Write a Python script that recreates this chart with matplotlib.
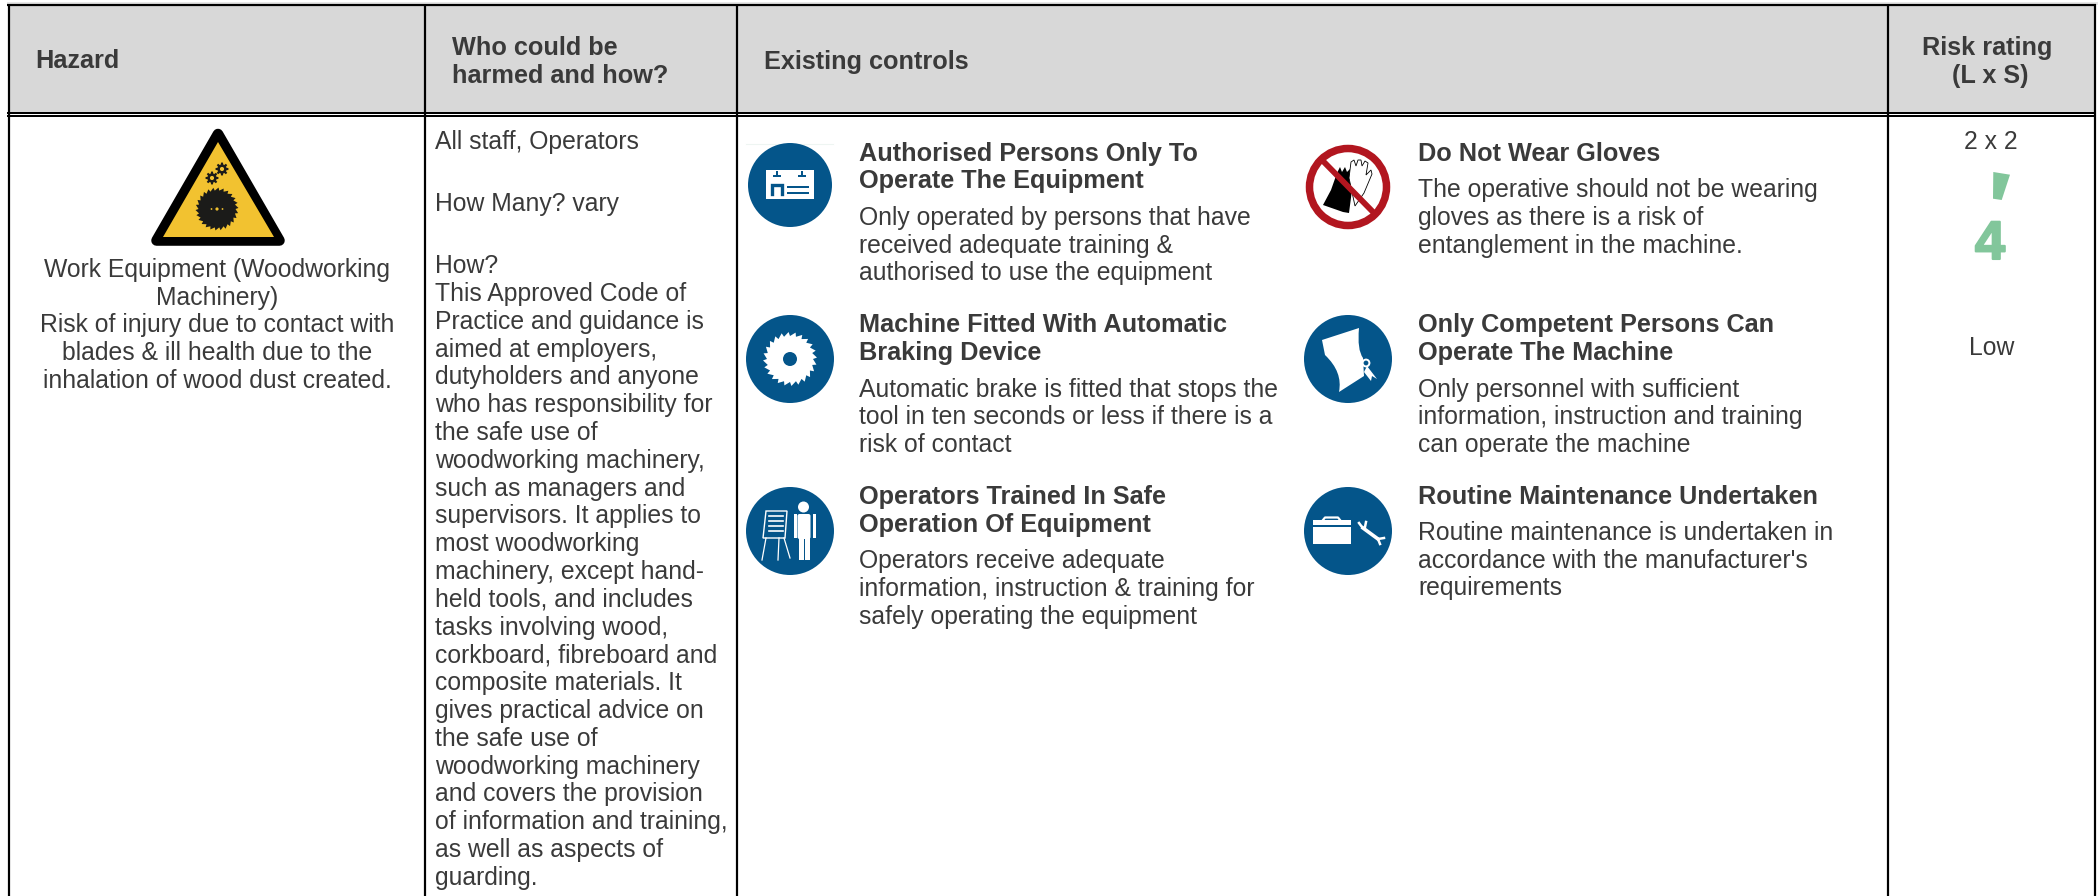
import matplotlib
matplotlib.use("Agg")
import matplotlib.pyplot as plt
import numpy as np
from matplotlib.patches import Polygon, Circle, Rectangle, FancyBboxPatch, PathPatch
from matplotlib.path import Path
import matplotlib.patheffects as pe

plt.rcParams['font.family'] = ['Liberation Sans', 'DejaVu Sans']

# Table text
header_labels = ["Hazard", "Existing controls"]
who_header = ["Who could be", "harmed and how?"]
risk_header = ["Risk rating", "(L x S)"]

hazard_lines = ["Work Equipment (Woodworking", "Machinery)", "Risk of injury due to contact with",
                "blades & ill health due to the", "inhalation of wood dust created."]

who_top = ["All staff, Operators", "How Many? vary", "How?"]
who_lines = ["This Approved Code of", "Practice and guidance is", "aimed at employers,",
             "dutyholders and anyone", "who has responsibility for", "the safe use of",
             "woodworking machinery,", "such as managers and", "supervisors. It applies to",
             "most woodworking", "machinery, except hand-", "held tools, and includes",
             "tasks involving wood,", "corkboard, fibreboard and", "composite materials. It",
             "gives practical advice on", "the safe use of", "woodworking machinery",
             "and covers the provision", "of information and training,", "as well as aspects of",
             "guarding."]

controls_left = [
    (["Authorised Persons Only To", "Operate The Equipment"],
     ["Only operated by persons that have", "received adequate training &", "authorised to use the equipment"]),
    (["Machine Fitted With Automatic", "Braking Device"],
     ["Automatic brake is fitted that stops the", "tool in ten seconds or less if there is a", "risk of contact"]),
    (["Operators Trained In Safe", "Operation Of Equipment"],
     ["Operators receive adequate", "information, instruction & training for", "safely operating the equipment"]),
]
controls_right = [
    (["Do Not Wear Gloves"],
     ["The operative should not be wearing", "gloves as there is a risk of", "entanglement in the machine."]),
    (["Only Competent Persons Can", "Operate The Machine"],
     ["Only personnel with sufficient", "information, instruction and training", "can operate the machine"]),
    (["Routine Maintenance Undertaken"],
     ["Routine maintenance is undertaken in", "accordance with the manufacturer's", "requirements"]),
]
rating_text = "2 x 2"
rating_value = "4"
rating_level = "Low"

TXT = '#3a3a3a'
BLUE = '#04558a'
GREEN = '#82c69b'
DARK = '#1b1b19'
BODY = 17.8
BOLD = 18.2

fig = plt.figure(figsize=(20.98, 8.96), dpi=100)
ax = fig.add_axes([0, 0, 1, 1])
ax.set_xlim(0, 2098)
ax.set_ylim(896, 0)
ax.axis('off')


def put(x, y, s, bold=False, ha='left', size=None, color=TXT):
    ax.text(x, y + 1, s, ha=ha, va='baseline', color=color,
            fontsize=size or (BOLD if bold else BODY),
            fontweight='bold' if bold else 'normal')


def poly(pts, fc, z=3, **kw):
    ax.add_patch(Polygon(pts, closed=True, fc=fc, ec=kw.pop('ec', 'none'), zorder=z, **kw))


def toothed(cx, cy, r_out, r_in, n, fc, z=4, skew=0.0):
    ang = np.linspace(0, 2 * np.pi, n, endpoint=False)
    step = 2 * np.pi / n
    pts = []
    for a in ang:
        pts.append((cx + r_in * np.cos(a), cy + r_in * np.sin(a)))
        pts.append((cx + r_out * np.cos(a + skew * step), cy + r_out * np.sin(a + skew * step)))
    poly(pts, fc, z)


def gear(cx, cy, r, fc, n=8):
    ang = np.linspace(0, 2 * np.pi, n, endpoint=False)
    step = 2 * np.pi / n
    pts = []
    for a in ang:
        for da, rr in [(-0.32, 0.72), (-0.2, 1.0), (0.2, 1.0), (0.32, 0.72)]:
            pts.append((cx + r * rr * np.cos(a + da * step), cy + r * rr * np.sin(a + da * step)))
    poly(pts, fc, 5)
    ax.add_patch(Circle((cx, cy), r * 0.32, fc='#f2c230', ec='none', zorder=6))


# Header band and grid lines
ax.add_patch(Rectangle((7, 2.5), 2091, 2.5, fc='#e6e6e6', ec='none', zorder=0))
ax.add_patch(Rectangle((9, 5), 2086, 108, fc='#d8d8d8', ec='none', zorder=0))
for y0, lw in [(5, 2.2), (113, 2.0), (116.5, 2.0)]:
    ax.plot([7.2, 2096], [y0, y0], color='black', lw=lw * 0.72, solid_capstyle='butt', zorder=2)
for x0 in [8.6, 425, 737, 1888, 2095]:
    ax.plot([x0, x0], [4, 896], color='black', lw=2.2 * 0.72, solid_capstyle='butt', zorder=2)

# Header text
put(35, 67.5, header_labels[0], bold=True)
put(452, 54, who_header[0], bold=True)
put(452, 82, who_header[1], bold=True)
put(764, 67.5, header_labels[1], bold=True)
put(1987.5, 54, risk_header[0], bold=True, ha='center')
put(1990, 82, risk_header[1], bold=True, ha='center')

# Hazard column
for y0, s in zip([276, 304, 331, 359, 387], hazard_lines):
    put(217, y0, s, ha='center')

# Who column
for y0, s in zip([148, 210, 272], who_top):
    put(435, y0, s)
for i, s in enumerate(who_lines):
    put(435, 300 + i * 27.8, s)

# Controls
left_y = [[160, 187, 224, 252, 279], [331, 359, 396, 423, 451], [503, 531, 567, 595, 623]]
right_y = [[160, 196, 224, 252], [331, 359, 396, 423, 451], [503, 539, 567, 594]]
for (titles, body), ys in zip(controls_left, left_y):
    lines = [(t, True) for t in titles] + [(b, False) for b in body]
    for y0, (s, b) in zip(ys, lines):
        put(859, y0, s, bold=b)
for (titles, body), ys in zip(controls_right, right_y):
    lines = [(t, True) for t in titles] + [(b, False) for b in body]
    for y0, (s, b) in zip(ys, lines):
        put(1418, y0, s, bold=b)

# Risk column
put(1991, 148, rating_text, ha='center')
put(1992, 354, rating_level, ha='center')
poly([(1993.3, 172), (2010, 174.7), (2001.7, 200), (1993, 198.7)], GREEN)
t4 = ax.text(1990, 259, rating_value, ha='center', va='baseline', fontsize=39,
             fontweight='bold', color=GREEN)
t4.set_path_effects([pe.withStroke(linewidth=1.5, foreground=GREEN)])

# Warning triangle
poly([(218, 134), (156.5, 240.5), (279.5, 240.5)], 'black', 3, ec='black', lw=7.6, joinstyle='round')
poly([(218, 142), (163, 237), (274, 237)], '#f2c230', 4)
toothed(217, 209, 21.5, 18.5, 26, DARK, 5, skew=0.8)
gear(212, 178, 6.5, DARK)
gear(222, 169, 6.5, DARK)
for dx, rr in [(-5.5, 0.9), (0, 1.6), (5.5, 0.9)]:
    ax.add_patch(Circle((217 + dx, 209), rr, fc='#f2c230', ec='none', zorder=6))

# Icon discs
ax.plot([746, 833], [144, 144], color='#eef5f2', lw=0.8, zorder=1)
for cx, cy, r in [(790, 185, 42), (790, 359, 44), (790, 531, 44), (1348, 359, 44), (1348, 531, 44)]:
    ax.add_patch(Circle((cx, cy), r, fc=BLUE, ec='none', zorder=3))

# Badge icon
ax.add_patch(Rectangle((766, 170), 48, 29, fc='white', ec='none', zorder=4))
for hx in [776.5, 801.5]:
    ax.add_patch(Rectangle((hx - 1, 171), 2, 4, fc=BLUE, ec='none', zorder=5))
    ax.add_patch(Rectangle((hx - 4, 175), 8, 1.6, fc=BLUE, ec='none', zorder=5))
ax.plot([772, 772, 782, 782], [194, 185, 185, 194], color=BLUE, lw=2.4, zorder=5, solid_joinstyle='miter')
for ly in [186.5, 192]:
    ax.add_patch(Rectangle((787, ly), 22, 1.9, fc=BLUE, ec='none', zorder=5))

# Saw icon
toothed(790, 359, 27, 23, 24, 'white', 4, skew=0.8)
ax.add_patch(Circle((790, 359), 7, fc=BLUE, ec='none', zorder=5))

# Trainer icon
ax.add_patch(Circle((803.5, 507), 5.5, fc='white', ec='none', zorder=4))
ax.add_patch(FancyBboxPatch((797.5, 514), 13, 25, boxstyle='round,pad=0,rounding_size=2', fc='white', ec='none', zorder=4))
for rx in [793.5, 812.5]:
    ax.add_patch(Rectangle((rx, 514), 3, 24, fc='white', ec='none', zorder=4))
ax.add_patch(Rectangle((799, 538), 4.5, 22, fc='white', ec='none', zorder=4))
ax.add_patch(Rectangle((805, 538), 4.5, 22, fc='white', ec='none', zorder=4))
poly([(766, 511), (787, 511), (785, 538), (763, 538)], BLUE, 4, ec='white', lw=1.0)
for ly in [516, 521, 526, 531]:
    ax.plot([769, 783], [ly, ly], color='white', lw=1.2, zorder=5)
ax.plot([766, 762], [538, 560], color='white', lw=0.9, zorder=5)
ax.plot([779, 778], [538, 560], color='white', lw=0.9, zorder=5)
ax.plot([784, 790], [538, 558], color='white', lw=0.9, zorder=5)

# No gloves icon
ax.add_patch(Circle((1348, 187), 38.5, fc='white', ec='#b2161f', lw=5.4, zorder=3))
poly([(1337, 173), (1340, 167), (1342, 172), (1345, 167), (1347, 172), (1350, 169), (1352, 190),
      (1349, 213), (1343, 212), (1323, 205), (1331, 190)], 'black', 4)
glove = [(1349, 178), (1351, 162), (1354, 160), (1356, 166), (1358, 160), (1361, 160), (1362, 166),
         (1365, 161), (1368, 163), (1366, 175), (1371, 170), (1372, 174), (1364, 193), (1355, 206)]
poly(glove, 'white', 5, ec='black', lw=0.6)
ax.plot([1322, 1375], [160, 214], color='#b2161f', lw=4.2, zorder=6, solid_capstyle='butt')

# Certificate icon
cert = Path([(1322, 340), (1359, 328), (1357, 350), (1363, 358), (1364, 376), (1339, 392),
             (1343, 372), (1325, 355), (1322, 340)],
            [Path.MOVETO, Path.LINETO, Path.CURVE3, Path.CURVE3, Path.LINETO, Path.LINETO,
             Path.CURVE3, Path.CURVE3, Path.CLOSEPOLY])
ax.add_patch(PathPatch(cert, fc='white', ec='none', zorder=4))
ax.add_patch(Circle((1366, 363), 4.4, fc='white', ec='none', zorder=5))
ax.add_patch(Circle((1366, 363), 2.4, fc=BLUE, ec='none', zorder=6))
poly([(1367, 366), (1377, 379), (1372, 376), (1371, 381), (1364, 372)], 'white', 5)

# Toolbox icon
ax.add_patch(Rectangle((1313, 520), 38, 5.5, fc='white', ec='none', zorder=4))
ax.add_patch(Rectangle((1313, 527), 38, 17, fc='white', ec='none', zorder=4))
ax.plot([1323, 1325, 1338, 1340], [520, 517.5, 517.5, 520], color='white', lw=1.6, zorder=4)
ax.plot([1363, 1378], [528, 539], color='white', lw=2.6, zorder=4)
ax.plot([1362, 1359], [527, 523], color='white', lw=1.8, zorder=4)
ax.plot([1365, 1366], [527, 522], color='white', lw=1.8, zorder=4)
ax.plot([1378, 1384], [539, 538], color='white', lw=1.8, zorder=4)
ax.plot([1378, 1380], [539, 544], color='white', lw=1.8, zorder=4)

fig.savefig('out.png', dpi=100, facecolor='white')
